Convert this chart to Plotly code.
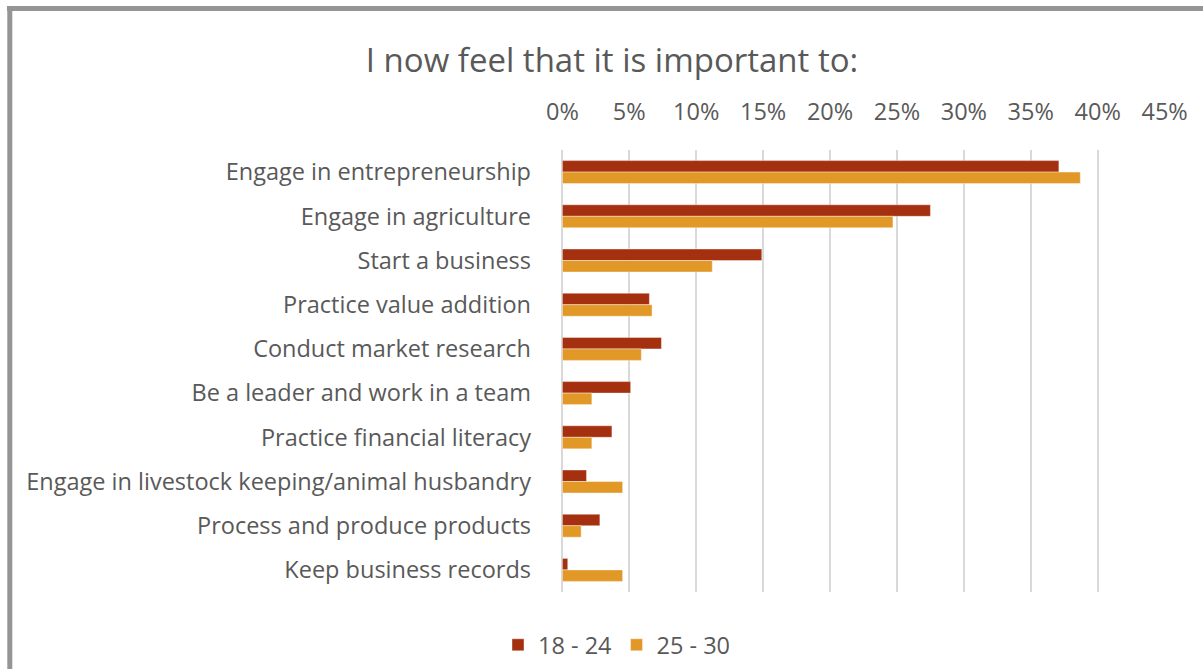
import plotly.graph_objects as go

categories = [
    "Engage in entrepreneurship",
    "Engage in agriculture",
    "Start a business",
    "Practice value addition",
    "Conduct market research",
    "Be a leader and work in a team",
    "Practice financial literacy",
    "Engage in livestock keeping/animal husbandry",
    "Process and produce products",
    "Keep business records",
]
age_18_24 = [37.1, 27.5, 14.9, 6.5, 7.4, 5.1, 3.7, 1.8, 2.8, 0.4]
age_25_30 = [38.7, 24.7, 11.2, 6.7, 5.9, 2.2, 2.2, 4.5, 1.4, 4.5]
x_ticks = [0, 5, 10, 15, 20, 25, 30, 35, 40, 45]
x_tick_labels = [f"{v}%" for v in x_ticks]

W, H = 1203, 669
L, R, T, B = 562, 38, 150, 77
PW, PH = W - L - R, H - T - B

FONT = "Open Sans"
GREY = "#595959"
TXT = 23.5

fig = go.Figure()
fig.add_trace(go.Bar(
    y=categories, x=age_18_24, name="18 - 24", orientation="h",
    marker=dict(color="#A5300F", line=dict(color="rgba(255,255,255,0.5)", width=0.8)),
))
fig.add_trace(go.Bar(
    y=categories, x=age_25_30, name="25 - 30", orientation="h",
    marker=dict(color="#E29826", line=dict(color="rgba(255,255,255,0.5)", width=0.8)),
))

def px_x(p):
    return (p - L) / PW

def px_y(p):
    return (H - B - p) / PH

# grey frame along the top and left edges
fig.add_shape(type="line", xref="paper", yref="paper",
              x0=px_x(7), x1=px_x(1250), y0=px_y(8.5), y1=px_y(8.5),
              line=dict(color="#959595", width=5), layer="above")
fig.add_shape(type="line", xref="paper", yref="paper",
              x0=px_x(9.8), x1=px_x(9.8), y0=px_y(6), y1=px_y(720),
              line=dict(color="#959595", width=5), layer="above")

fig.update_layout(
    width=W, height=H,
    margin=dict(l=L, r=R, t=T, b=B, autoexpand=False),
    paper_bgcolor="white", plot_bgcolor="white",
    barmode="group", bargap=0.48, bargroupgap=0,
    title=dict(text="I now feel that it is important to:", x=612 / W, xanchor="center",
               y=1 - 60 / H, yanchor="middle",
               font=dict(family=FONT, size=33, color=GREY)),
    font=dict(family=FONT, color=GREY, size=TXT),
    legend=dict(orientation="h", x=px_x(617), xanchor="center", y=px_y(645),
                yanchor="middle", font=dict(size=TXT, color=GREY),
                traceorder="normal", itemwidth=30),
    showlegend=True,
)
fig.update_xaxes(
    side="top", range=[-0.03, 45.03], tickvals=x_ticks, ticktext=x_tick_labels,
    showgrid=True, gridcolor="#D9D9D9", gridwidth=1.5,
    zeroline=True, zerolinecolor="#D9D9D9", zerolinewidth=1.5,
    showline=False, ticks="",
    ticklabelstandoff=24, tickfont=dict(size=TXT, color=GREY),
)
fig.update_yaxes(
    autorange="reversed", showgrid=False, showline=False, ticks="",
    ticklabelstandoff=30, tickfont=dict(size=TXT, color=GREY),
)

fig.write_html("out.html")
